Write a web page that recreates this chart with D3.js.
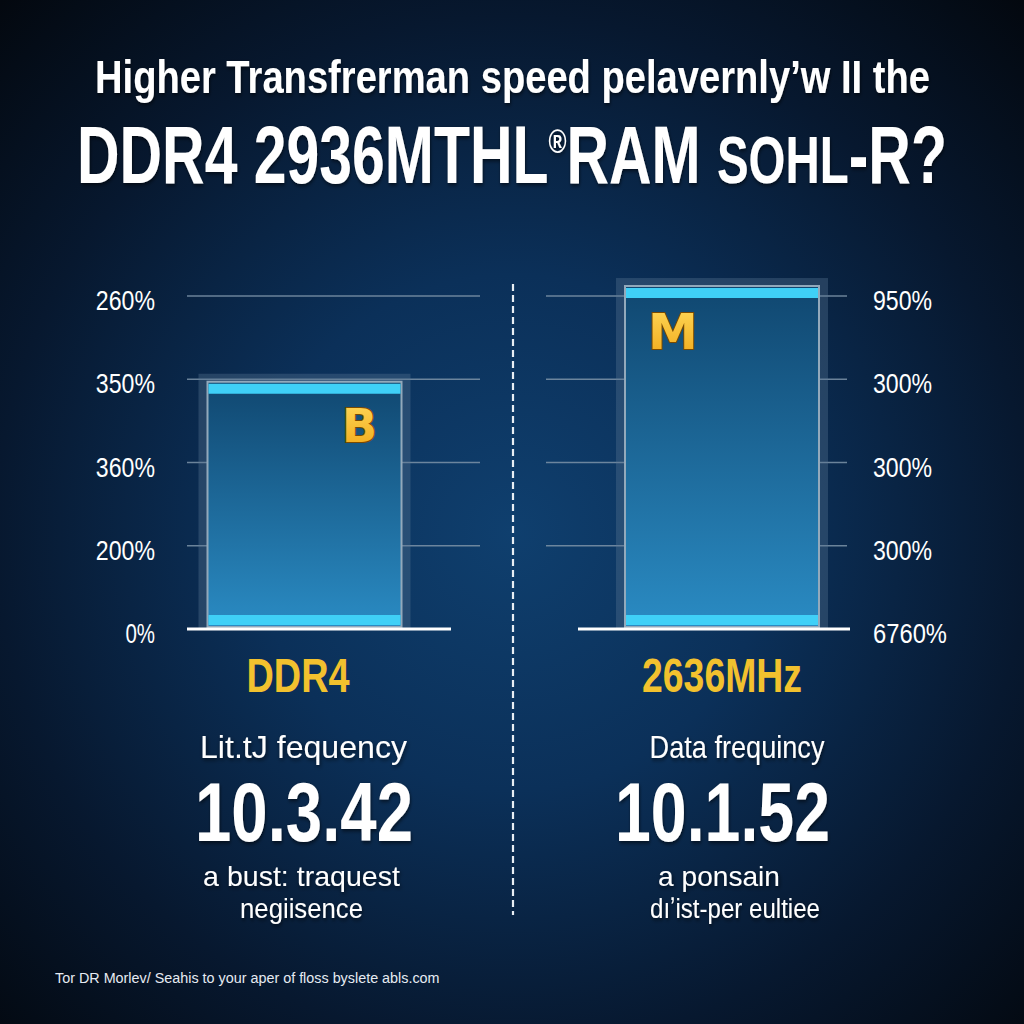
<!DOCTYPE html>
<html>
<head>
<meta charset="utf-8">
<script src="https://cdn.jsdelivr.net/npm/d3@7"></script>
<style>
html,body{margin:0;padding:0;background:#050b16;}
svg{display:block;}
</style>
</head>
<body>
<script>
// ---------- data ----------
const titleLine1 = "Higher Transfrerman speed pelavernly\u2019w II the";
const titleLine2Parts = ["DDR4 2936MTHL", "\u00AE", "RAM ", "SOHL", "-R?"];
const categories = ["DDR4", "2636MHz"];
const barValues = [2.97, 4.12];            // in grid steps
const barLetters = ["B", "M"];
const leftTickLabels = ["0%", "200%", "360%", "350%", "260%"];
const rightTickLabels = ["6760%", "300%", "300%", "300%", "950%"];
const freqLabels = ["Lit.tJ fequency", "Data frequincy"];
const freqValues = ["10.3.42", "10.1.52"];
const noteLine1 = ["a bust: traquest", "a ponsain"];
const noteLine2 = ["negiisence", "d\u0131\u02BCist-per eultiee"];
const footerText = "Tor DR Morlev/ Seahis to your aper of floss byslete abls.com";

// ---------- setup ----------
const W = 1024, H = 1024;
const FONT = "'Liberation Sans', Arial, sans-serif";
const svg = d3.select("body").append("svg").attr("width", W).attr("height", H);
const defs = svg.append("defs");

const bg = defs.append("radialGradient").attr("id", "bg")
  .attr("cx", "50%").attr("cy", "52%").attr("r", "72%");
bg.append("stop").attr("offset", "0%").attr("stop-color", "#0f3f6e");
bg.append("stop").attr("offset", "35%").attr("stop-color", "#0b3059");
bg.append("stop").attr("offset", "70%").attr("stop-color", "#07182f");
bg.append("stop").attr("offset", "100%").attr("stop-color", "#03080f");

const barGrad = defs.append("linearGradient").attr("id", "barGrad")
  .attr("x1", 0).attr("y1", 0).attr("x2", 0).attr("y2", 1);
barGrad.append("stop").attr("offset", "0%").attr("stop-color", "#104770");
barGrad.append("stop").attr("offset", "100%").attr("stop-color", "#2a8bc3");

const gold = defs.append("linearGradient").attr("id", "gold")
  .attr("x1", 0).attr("y1", 0).attr("x2", 0).attr("y2", 1);
gold.append("stop").attr("offset", "0%").attr("stop-color", "#ffd95a");
gold.append("stop").attr("offset", "100%").attr("stop-color", "#f0a818");

const shadow = defs.append("filter").attr("id", "shadow")
  .attr("x", "-10%").attr("y", "-20%").attr("width", "120%").attr("height", "140%");
shadow.append("feDropShadow").attr("dx", 1).attr("dy", 2).attr("stdDeviation", 2)
  .attr("flood-color", "#000").attr("flood-opacity", 0.6);

svg.append("rect").attr("width", W).attr("height", H).attr("fill", "url(#bg)");

// fit a text element horizontally to a target width by scaling
function fit(node, x, y, w) {
  const t = d3.select(node).attr("x", 0).attr("y", 0);
  const nat = node.getComputedTextLength();
  t.attr("transform", `translate(${x},${y}) scale(${(w / nat).toFixed(4)},1)`);
}

// ---------- title ----------
const t1 = svg.append("text")
  .attr("font-family", FONT).attr("font-size", 46).attr("font-weight", 700)
  .attr("fill", "#ffffff").attr("filter", "url(#shadow)")
  .text(titleLine1);
fit(t1.node(), 95, 93, 835);

const t2 = svg.append("text")
  .attr("font-family", FONT).attr("font-size", 82).attr("font-weight", 700)
  .attr("fill", "#ffffff").attr("filter", "url(#shadow)");
titleLine2Parts.forEach((p, i) => {
  const ts = t2.append("tspan").text(p);
  if (i === 1) ts.attr("font-size", 34).attr("dy", -30);
  if (i === 2) ts.attr("dy", 30);
  if (i === 3) ts.attr("font-size", 66);
});
fit(t2.node(), 77, 183, 870);

// ---------- scales ----------
const y = d3.scaleLinear().domain([0, 4]).range([629, 296]);
const xC = d3.scalePoint().domain(categories).range([304.5, 722]);
const barW = 194;
const gridSteps = d3.range(1, 5);

const panels = [
  {grid: [187, 480], base: [187, 451], ticks: leftTickLabels, tickX: 155, anchor: "end"},
  {grid: [546, 847], base: [578, 850], ticks: rightTickLabels, tickX: 873, anchor: "start"}
];
panels.forEach(p => {
  svg.append("g").selectAll("line").data(gridSteps).join("line")
    .attr("x1", p.grid[0]).attr("x2", p.grid[1])
    .attr("y1", d => y(d)).attr("y2", d => y(d))
    .attr("stroke", "#7d93a8").attr("stroke-width", 1.6).attr("opacity", 0.85);
  svg.append("g").selectAll("text").data(p.ticks).join("text")
    .attr("text-anchor", p.anchor)
    .attr("font-family", FONT).attr("font-size", 27).attr("font-weight", 400)
    .attr("fill", "#ffffff")
    .text(d => d)
    .each(function (d, i) { fit(this, p.tickX, y(i) + 14, d.length * 14.8); });
});

// bars
const bars = svg.append("g").selectAll("g").data(categories).join("g");
bars.append("rect") // outer frame
  .attr("x", d => xC(d) - barW / 2 - 9)
  .attr("y", (d, i) => y(barValues[i]) - 8)
  .attr("width", barW + 18)
  .attr("height", (d, i) => y(0) - y(barValues[i]) + 8)
  .attr("fill", "#5d7894").attr("opacity", 0.35);
bars.append("rect") // main bar
  .attr("x", d => xC(d) - barW / 2)
  .attr("y", (d, i) => y(barValues[i]))
  .attr("width", barW)
  .attr("height", (d, i) => y(0) - y(barValues[i]) - 2)
  .attr("fill", "url(#barGrad)")
  .attr("stroke", "#93a9bb").attr("stroke-width", 2);
bars.append("rect") // top highlight
  .attr("x", d => xC(d) - barW / 2 + 1)
  .attr("y", (d, i) => y(barValues[i]) + 2)
  .attr("width", barW - 2).attr("height", 10)
  .attr("fill", "#3fd0f7");
bars.append("rect") // bottom highlight
  .attr("x", d => xC(d) - barW / 2 + 1)
  .attr("y", y(0) - 14)
  .attr("width", barW - 2).attr("height", 10)
  .attr("fill", "#3fd0f7");
bars.append("text") // gold letters
  .attr("x", (d, i) => i === 0 ? xC(d) + 55 : xC(d) - 49)
  .attr("y", (d, i) => y(barValues[i]) + (i === 0 ? 60 : 63))
  .attr("text-anchor", "middle")
  .attr("font-family", "'DejaVu Sans', sans-serif").attr("font-weight", 700)
  .attr("font-size", (d, i) => i === 0 ? 46 : 50)
  .attr("fill", "url(#gold)").attr("stroke", "#7a4a00").attr("stroke-width", 2)
  .attr("paint-order", "stroke")
  .text((d, i) => barLetters[i]);

// baselines
panels.forEach(p => {
  svg.append("line")
    .attr("x1", p.base[0]).attr("x2", p.base[1])
    .attr("y1", y(0)).attr("y2", y(0))
    .attr("stroke", "#ffffff").attr("stroke-width", 3);
});

// divider
svg.append("line")
  .attr("x1", 513).attr("x2", 513).attr("y1", 284).attr("y2", 915)
  .attr("stroke", "#e8eef4").attr("stroke-width", 2.2)
  .attr("stroke-dasharray", "7 4");

// ---------- labels below ----------
const catX = [298, 722];
const catW = [103, 160];
svg.append("g").selectAll("text").data(categories).join("text")
  .attr("text-anchor", "middle")
  .attr("font-family", FONT).attr("font-size", 49).attr("font-weight", 700)
  .attr("fill", "#f2c12e")
  .text(d => d)
  .each(function (d, i) { fit(this, catX[i], 692, catW[i]); });

function textRow(data, xs, widths, yPos, size, weight) {
  svg.append("g").selectAll("text").data(data).join("text")
    .attr("text-anchor", "middle")
    .attr("font-family", FONT).attr("font-size", size).attr("font-weight", weight)
    .attr("fill", "#ffffff").attr("filter", "url(#shadow)")
    .text(d => d)
    .each(function (d, i) { fit(this, xs[i], yPos, widths[i]); });
}
textRow(freqLabels, [303.5, 737], [207, 175], 758, 32, 400);
textRow(freqValues, [304, 722.5], [218, 215], 841, 84, 700);
textRow(noteLine1, [301.5, 719], [197, 122], 886, 28, 400);
textRow(noteLine2, [301.5, 735], [123, 170], 918, 28, 400);

// footer
const ft = svg.append("text")
  .attr("font-family", FONT).attr("font-size", 15).attr("font-weight", 400)
  .attr("fill", "#e6ebf2")
  .text(footerText);
fit(ft.node(), 55, 983, 385);
</script>
</body>
</html>
